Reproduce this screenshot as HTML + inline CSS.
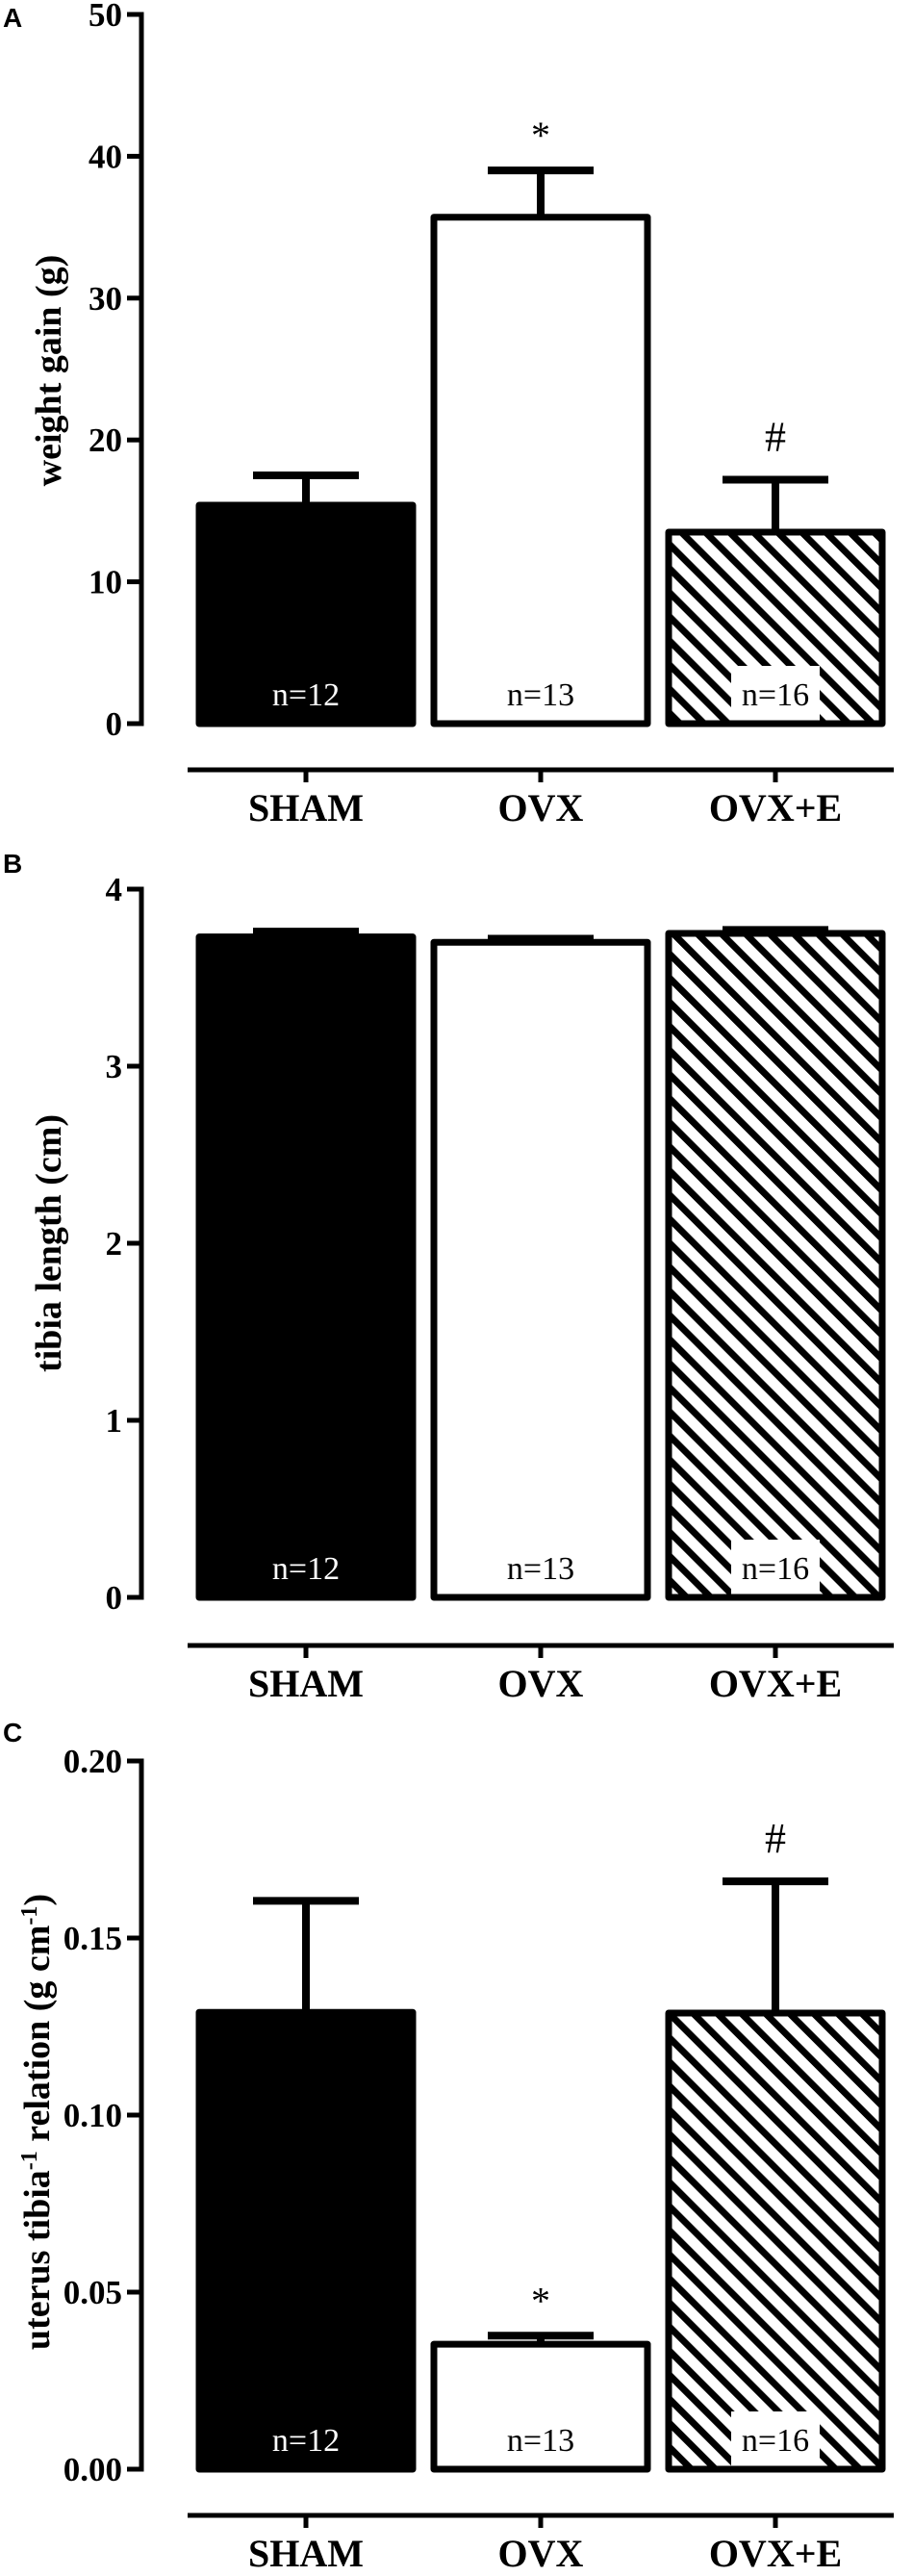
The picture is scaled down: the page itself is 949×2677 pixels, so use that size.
<!DOCTYPE html>
<html><head><meta charset="utf-8"><title>Weight gain, tibia length, uterus/tibia</title>
<style>html,body{margin:0;padding:0;background:#fff}svg{display:block}</style></head>
<body>
<svg id="fig" width="949" height="2677" viewBox="0 0 949 2677" xmlns="http://www.w3.org/2000/svg">
<defs>
<pattern id="hatch" patternUnits="userSpaceOnUse" width="17.7" height="17.7" patternTransform="rotate(-45)">
<rect x="0" y="0" width="17.7" height="17.7" fill="#fff"/>
<rect x="0" y="0" width="7" height="17.7" fill="#000"/>
</pattern>
</defs>
<g id="root"></g>
</svg>
<script>
const categories = ["SHAM", "OVX", "OVX+E"];
const nLabels = ["n=12", "n=13", "n=16"];
const weightGain = [15.4, 35.7, 13.5];
const weightGainSem = [2.1, 3.3, 3.7];
const weightTicks = [0, 10, 20, 30, 40, 50];
const weightTickLabels = ["0", "10", "20", "30", "40", "50"];
const tibiaLength = [3.73, 3.70, 3.75];
const tibiaSem = [0.03, 0.02, 0.02];
const tibiaTicks = [0, 1, 2, 3, 4];
const tibiaTickLabels = ["0", "1", "2", "3", "4"];
const uterusRatio = [0.129, 0.0353, 0.1288];
const uterusSem = [0.0315, 0.0024, 0.0372];
const uterusTicks = [0, 0.05, 0.10, 0.15, 0.20];
const uterusTickLabels = ["0.00", "0.05", "0.10", "0.15", "0.20"];
const annotA = ["", "*", "#"];
const annotB = ["", "", ""];
const annotC = ["", "*", "#"];

const NS = "http://www.w3.org/2000/svg";
const root = document.getElementById("root");
function mk(tag, attrs, parent) {
  const e = document.createElementNS(NS, tag);
  for (const k in attrs) e.setAttribute(k, attrs[k]);
  (parent || root).appendChild(e);
  return e;
}
const AXIS_X = 147;
const centers = [318, 562, 806];
const BAR_W = 222;
const fills = ["#000", "#fff", "url(#hatch)"];

function panel(cfg) {
  const g = mk("g", {});
  
  
  const maxT = cfg.ticks[cfg.ticks.length - 1];
  const y = v => cfg.y0 - (v / maxT) * (cfg.y0 - cfg.yTop);

  const lab = mk("text", {x: 3, y: cfg.labelY, "font-family": "Liberation Sans, sans-serif", "font-weight": "bold", "font-size": 28}, g);
  lab.textContent = cfg.letter;
  
  

  const ya = mk("line", {x1: AXIS_X, x2: AXIS_X, y1: y(maxT) - 2.5, y2: cfg.y0 + 2.5, stroke: "#000", "stroke-width": 5}, g);
  
  
  cfg.ticks.forEach((t, i) => {
    const tk = mk("line", {x1: 132, x2: AXIS_X, y1: y(t), y2: y(t), stroke: "#000", "stroke-width": 5}, g);
    
    
    const tl = mk("text", {x: 127, y: y(t) + 12, "text-anchor": "end", "font-family": "Liberation Serif, serif", "font-weight": "bold", "font-size": 35}, g);
    tl.textContent = cfg.tickLabels[i];
    
    
  });

  const tt = mk("text", {x: 0, y: 0, transform: `translate(${cfg.titleX},${cfg.titleY}) rotate(-90)`, "text-anchor": "middle", "font-family": "Liberation Serif, serif", "font-weight": "bold", "font-size": 38}, g);
  
  
  cfg.title.forEach(part => {
    const ts = mk("tspan", part.sup ? {"baseline-shift": "super", "font-size": 24} : {}, tt);
    ts.textContent = part.t;
  });

  cfg.values.forEach((v, i) => {
    const cx = centers[i];
    const top = y(v), errY = y(v + cfg.sem[i]);
    const st = mk("line", {x1: cx, x2: cx, y1: top, y2: errY, stroke: "#000", "stroke-width": 8}, g);
    
    
    const cap = mk("line", {x1: cx - 55, x2: cx + 55, y1: errY, y2: errY, stroke: "#000", "stroke-width": 8}, g);
    
    
    const r = mk("rect", {x: cx - BAR_W / 2, y: top, width: BAR_W, height: cfg.y0 - top, fill: fills[i], stroke: "#000", "stroke-width": 7, "stroke-linejoin": "round"}, g);
    
    
    if (i === 2) {
      const bx = mk("rect", {x: cx - 46, y: cfg.y0 - 60, width: 92, height: 56.5, fill: "#fff"}, g);
      
      
    }
    const nl = mk("text", {x: cx, y: cfg.y0 - 19, "text-anchor": "middle", "font-family": "Liberation Serif, serif", "font-size": 34, fill: i === 0 ? "#fff" : "#000"}, g);
    nl.textContent = nLabels[i];
    
    
    if (cfg.annot[i]) {
      const isStar = cfg.annot[i] === "*";
      const an = mk("text", {x: cx, y: errY - 45 + (isStar ? 22 : 15), "text-anchor": "middle", "font-family": "Liberation Serif, serif", "font-size": isStar ? 40 : 44}, g);
      an.textContent = cfg.annot[i];
      
      
    }
  });

  const xa = mk("line", {x1: 195, x2: 929, y1: cfg.xAxisY, y2: cfg.xAxisY, stroke: "#000", "stroke-width": 5}, g);
  
  
  categories.forEach((c, i) => {
    const tk = mk("line", {x1: centers[i], x2: centers[i], y1: cfg.xAxisY, y2: cfg.xAxisY + 13, stroke: "#000", "stroke-width": 5}, g);
    
    
    const xl = mk("text", {x: centers[i], y: cfg.xAxisY + 53, "text-anchor": "middle", "font-family": "Liberation Serif, serif", "font-weight": "bold", "font-size": 40}, g);
    xl.textContent = c;
    
    
  });
}

panel({name: "panel-a-weight-gain", letter: "A", labelY: 28, y0: 752, yTop: 15, ticks: weightTicks, tickLabels: weightTickLabels,
  values: weightGain, sem: weightGainSem, annot: annotA, xAxisY: 800, titleX: 63, titleY: 385,
  title: [{t: "weight gain (g)"}]});
panel({name: "panel-b-tibia-length", letter: "B", labelY: 907, y0: 1660, yTop: 924, ticks: tibiaTicks, tickLabels: tibiaTickLabels,
  values: tibiaLength, sem: tibiaSem, annot: annotB, xAxisY: 1710, titleX: 63, titleY: 1292,
  title: [{t: "tibia length (cm)"}]});
panel({name: "panel-c-uterus-tibia", letter: "C", labelY: 1810, y0: 2566, yTop: 1830, ticks: uterusTicks, tickLabels: uterusTickLabels,
  values: uterusRatio, sem: uterusSem, annot: annotC, xAxisY: 2614, titleX: 51, titleY: 2205,
  title: [{t: "uterus tibia"}, {t: "-1", sup: true}, {t: " relation (g cm"}, {t: "-1", sup: true}, {t: ")"}]});
</script>
</body></html>
